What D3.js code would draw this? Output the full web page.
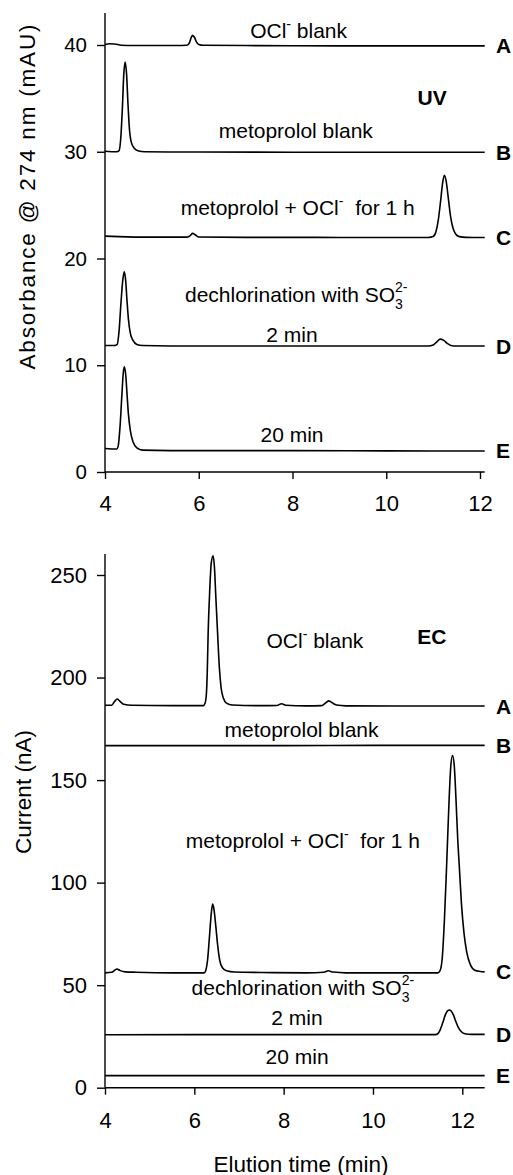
<!DOCTYPE html>
<html>
<head>
<meta charset="utf-8">
<script src="https://cdn.jsdelivr.net/npm/d3@7"></script>
<style>
  html, body { margin: 0; padding: 0; background: #fff; }
  svg { display: block; }
  text { font-family: "Liberation Sans", Arial, Helvetica, sans-serif; fill: #000; }
</style>
</head>
<body>
<svg id="chart" width="513" height="1175"></svg>
<script>
// ---------------- DATA ----------------
const xTicks = [4, 6, 8, 10, 12];
const uvYTicks = [0, 10, 20, 30, 40];
const ecYTicks = [0, 50, 100, 150, 200, 250];
const traceLetters = ["A", "B", "C", "D", "E"];

// UV traces: [elution time (min), absorbance (mAU)]
const uvA = [[4.0,40.05],[4.1,40.12],[4.2,40.1],[4.35,39.98],[4.6,39.95],[5.0,39.95],[5.5,39.95],[5.75,39.97],[5.80,40.2],[5.84,40.7],[5.87,40.9],[5.91,40.7],[5.95,40.3],[6.0,40.05],[6.1,39.97],[7,39.95],[8,39.93],[9,39.92],[10,39.92],[11,39.92],[12.1,39.92]];
const uvB = [[4.0,30.05],[4.25,30.0],[4.30,30.1],[4.34,31.5],[4.37,34.0],[4.40,37.2],[4.43,38.4],[4.46,37.3],[4.49,34.5],[4.52,32.2],[4.56,30.9],[4.62,30.35],[4.70,30.1],[4.85,30.0],[6,29.97],[8,29.96],[10,29.96],[12.1,29.95]];
const uvC = [[4.0,22.1],[4.3,22.05],[5.0,22.0],[5.75,22.0],[5.82,22.15],[5.87,22.35],[5.93,22.2],[6.0,22.02],[7,21.98],[8,21.98],[9,21.97],[10,21.97],[10.9,21.97],[11.0,22.05],[11.06,22.5],[11.11,23.6],[11.16,25.4],[11.20,27.0],[11.24,27.8],[11.28,27.2],[11.32,25.8],[11.37,24.0],[11.42,22.9],[11.48,22.3],[11.56,22.05],[11.7,21.98],[12.1,21.97]];
const uvD = [[4.0,11.85],[4.2,11.85],[4.26,11.95],[4.30,13.2],[4.34,15.8],[4.38,18.0],[4.41,18.75],[4.44,18.0],[4.47,16.0],[4.50,14.3],[4.54,13.0],[4.60,12.3],[4.68,11.95],[4.8,11.85],[6,11.8],[8,11.8],[10,11.8],[10.9,11.8],[11.0,11.9],[11.08,12.2],[11.15,12.45],[11.22,12.35],[11.3,12.05],[11.38,11.85],[11.5,11.8],[12.1,11.8]];
const uvE = [[4.0,2.2],[4.25,2.15],[4.28,2.4],[4.32,4.2],[4.36,7.2],[4.39,9.3],[4.41,9.86],[4.44,9.2],[4.47,7.3],[4.50,5.4],[4.54,3.9],[4.60,2.8],[4.68,2.25],[4.8,2.05],[6,2.0],[8,2.0],[10,1.98],[12.1,1.97]];

// EC traces: [elution time (min), current (nA)]
const ecA = [[4.0,186.5],[4.15,186.5],[4.22,188.5],[4.27,189.5],[4.33,188.5],[4.42,187.0],[4.6,186.5],[5.5,186.3],[6.2,186.3],[6.24,187.5],[6.27,192],[6.29,203],[6.31,222],[6.34,240],[6.38,256],[6.42,259.4],[6.45,254],[6.48,240],[6.52,222],[6.56,205],[6.60,195],[6.65,190],[6.72,187.5],[6.85,186.6],[7.5,186.3],[7.85,186.4],[7.95,187.2],[8.05,186.5],[8.5,186.2],[8.85,186.3],[8.95,187.8],[9.01,188.6],[9.08,187.8],[9.18,186.6],[9.4,186.2],[10.5,186.1],[12.5,186.1]];
const ecB = [[4.0,166.8],[6,166.8],[8,166.8],[10,166.9],[12.5,166.9]];
const ecC = [[4.0,56.0],[4.15,56.3],[4.22,57.3],[4.27,57.9],[4.33,57.2],[4.45,56.5],[4.7,56.3],[5.5,56.0],[6.22,56.0],[6.26,57.5],[6.30,63],[6.34,74],[6.38,85],[6.41,89.5],[6.44,87],[6.48,79],[6.52,70],[6.57,62],[6.63,58.5],[6.72,57],[6.9,56.4],[7.5,56.2],[8.5,56.0],[8.9,56.3],[9.0,57.0],[9.1,56.4],[9.4,56.0],[10.5,56.0],[11.45,56.0],[11.5,57],[11.55,63],[11.60,82],[11.65,109],[11.70,138],[11.74,156],[11.78,162],[11.82,157],[11.86,140],[11.90,120],[11.93,109],[11.98,90],[12.04,75],[12.10,66],[12.18,60],[12.28,57.3],[12.4,56.7],[12.5,56.5]];
const ecD = [[4.0,25.8],[6,25.9],[8,25.9],[10,25.9],[11.4,25.9],[11.45,26.3],[11.50,28],[11.56,31.5],[11.62,35.5],[11.67,37.5],[11.71,37.9],[11.75,37.4],[11.80,35.5],[11.86,32],[11.92,29],[11.98,27.3],[12.06,26.3],[12.2,26.0],[12.5,26.0]];
const ecE = [[4.0,5.9],[8,5.9],[12.5,5.9]];

// ---------------- LAYOUT ----------------
const svg = d3.select("#chart");
const FONT = 21;

const xUV = d3.scaleLinear().domain([4, 12]).range([105, 480]);
const yUV = d3.scaleLinear().domain([0, 40]).range([472, 45]);
const uvXMax = 12.1, uvYMax = 43;

const xEC = d3.scaleLinear().domain([4, 12]).range([105, 462.3]);
const yEC = d3.scaleLinear().domain([0, 250]).range([1087.7, 575]);
const ecXMax = 12.5, ecYMax = 260.3;

function drawAxes(x, y, xMax, yMax, yTicks, yPad, yFont, xFont, xLabelOff) {
  const ya = svg.append("g").attr("transform", `translate(${x(4)},0)`)
    .call(d3.axisLeft(y).tickValues(yTicks).tickSize(8).tickSizeOuter(0).tickPadding(yPad));
  ya.select(".domain").attr("d", `M0,${y(0)}V${y(yMax)}`);
  ya.selectAll("line, path").attr("stroke", "#000").attr("stroke-width", 1.4);
  ya.selectAll("text").attr("font-size", yFont).attr("font-family", "Liberation Sans, Arial, sans-serif").attr("fill", "#000");
  const xa = svg.append("g").attr("transform", `translate(0,${y(0)})`)
    .call(d3.axisBottom(x).tickValues(xTicks).tickSize(7).tickSizeOuter(0));
  xa.select(".domain").attr("d", `M${x(4)},0H${x(xMax)}`);
  xa.selectAll("line, path").attr("stroke", "#000").attr("stroke-width", 1.4);
  xa.selectAll("text").attr("font-size", xFont).attr("font-family", "Liberation Sans, Arial, sans-serif")
    .attr("fill", "#000").attr("y", xLabelOff).attr("dy", 0);
}

function drawTraces(x, y, traces) {
  const line = d3.line().x(d => x(d[0])).y(d => y(d[1])).curve(d3.curveMonotoneX);
  svg.append("g").selectAll("path").data(traces).join("path")
    .attr("d", line).attr("fill", "none").attr("stroke", "#000")
    .attr("stroke-width", 1.6).attr("stroke-linejoin", "round");
  svg.append("g").selectAll("text").data(traces).join("text")
    .attr("x", 496).attr("y", d => y(d[d.length - 1][1]) + 7.5)
    .attr("font-size", FONT).attr("font-weight", "bold")
    .text((d, i) => traceLetters[i]);
}

function plain(x, y, t, v, str, bold) {
  svg.append("text").attr("x", x(t)).attr("y", y(v)).attr("text-anchor", "middle")
    .attr("font-size", FONT).attr("font-weight", bold ? "bold" : "normal").text(str);
}
function ocl(x, y, t, v, before, after) {
  const tx = svg.append("text").attr("x", x(t)).attr("y", y(v)).attr("text-anchor", "middle")
    .attr("font-size", FONT).attr("xml:space", "preserve");
  tx.append("tspan").text(before + "OCl");
  tx.append("tspan").attr("font-size", 14).attr("dy", -9).text("-");
  tx.append("tspan").attr("dy", 9).text(after);
}
function sulfite(x, y, t, v) {
  const tx = svg.append("text").attr("x", x(t)).attr("y", y(v)).attr("text-anchor", "middle")
    .attr("font-size", FONT);
  tx.append("tspan").text("dechlorination with SO");
  tx.append("tspan").attr("font-size", 14).attr("dy", 7).text("3");
  tx.append("tspan").attr("font-size", 14).attr("dx", -7.8).attr("dy", -17).text("2-");
}

// ---------------- UV PANEL ----------------
drawAxes(xUV, yUV, uvXMax, uvYMax, uvYTicks, 10, 20.5, 22, 39);
drawTraces(xUV, yUV, [uvA, uvB, uvC, uvD, uvE]);
ocl(xUV, yUV, 8.13, 40.66, "", " blank");
plain(xUV, yUV, 10.98, 34.4, "UV", true);
plain(xUV, yUV, 8.07, 31.33, "metoprolol blank");
ocl(xUV, yUV, 8.11, 24.07, "metoprolol + ", "  for 1 h");
sulfite(xUV, yUV, 8.08, 15.95);
plain(xUV, yUV, 7.99, 12.2, "2 min");
plain(xUV, yUV, 7.99, 2.84, "20 min");
svg.append("text").attr("transform", "translate(35,197) rotate(-90)")
  .attr("text-anchor", "middle").attr("font-size", 22.5)
  .attr("textLength", 345).attr("lengthAdjust", "spacing")
  .text("Absorbance @ 274 nm (mAU)");

// ---------------- EC PANEL ----------------
drawAxes(xEC, yEC, ecXMax, ecYMax, ecYTicks, 10, 22, 22, 40.5);
drawTraces(xEC, yEC, [ecA, ecB, ecC, ecD, ecE]);
ocl(xEC, yEC, 8.70, 214.3, "", " blank");
plain(xEC, yEC, 11.32, 216.4, "EC", true);
plain(xEC, yEC, 8.40, 171.2, "metoprolol blank");
ocl(xEC, yEC, 8.43, 116.7, "metoprolol + ", "  for 1 h");
sulfite(xEC, yEC, 8.43, 45.2);
plain(xEC, yEC, 8.30, 30.6, "2 min");
plain(xEC, yEC, 8.30, 11.6, "20 min");
svg.append("text").attr("transform", "translate(31,792) rotate(-90)")
  .attr("text-anchor", "middle").attr("font-size", 22.5).text("Current (nA)");
svg.append("text").attr("x", 301).attr("y", 1171.5).attr("text-anchor", "middle")
  .attr("font-size", 22.5).text("Elution time (min)");
</script>
</body>
</html>
